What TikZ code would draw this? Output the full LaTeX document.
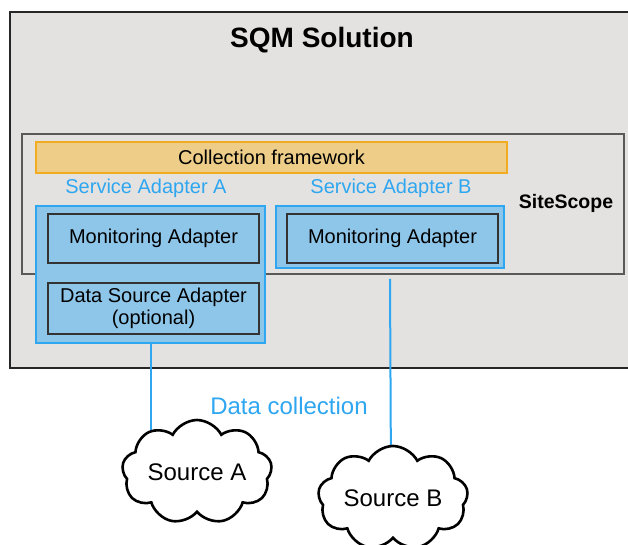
\documentclass[tikz,border=0pt]{standalone}
\usepackage{fontspec}
\setmainfont{Liberation Sans}
\usepackage{tikz}
\usetikzlibrary{shapes.symbols}

\definecolor{solgray}{HTML}{E4E2E0}
\definecolor{framefill}{HTML}{EDCD88}
\definecolor{frameline}{HTML}{F2AC22}
\definecolor{adapterfill}{HTML}{8EC6EA}
\definecolor{adapterblue}{HTML}{2EA6F0}

\begin{document}
\begin{tikzpicture}[
    x=1pt, y=-1pt,
    font=\fontsize{20}{23}\selectfont,
    container/.style={draw, rectangle, inner sep=0pt},
    adapterbox/.style={container, fill=adapterfill, draw=adapterblue, line width=1.5pt},
    innerbox/.style={container, fill=adapterfill, draw=black!80, line width=1.5pt, align=center},
    bluetext/.style={text=adapterblue},
    link/.style={draw=adapterblue, line width=2pt},
    sourcecloud/.style={cloud, cloud puffs=9, cloud puff arc=125, cloud ignores aspect,
      draw=black, fill=white, line width=2.6pt, minimum width=150, minimum height=104,
      font=\fontsize{24}{28}\selectfont}
  ]
  \clip (0,0) rectangle (628,544);
  % outer solution and SiteScope frames
  \node[container, fill=solgray, draw=black!85, line width=2pt,
    minimum width=622, minimum height=356] (sqm) at (321,190) {};
  \node[font=\fontsize{28}{32}\selectfont\bfseries] (sqmtitle) at (322,40) {SQM Solution};
  \node[container, draw=black!65, line width=1.2pt,
    minimum width=602, minimum height=140] (site) at (323,204) {};
  \node[font=\fontsize{19.5}{22}\selectfont\bfseries] (sitelabel) at (566,203) {SiteScope};
  \node[container, fill=framefill, draw=frameline, line width=1.3pt,
    minimum width=471, minimum height=31] (framework) at (271.5,157.5) {Collection framework};
  % service adapters
  \node[bluetext] (svcAlabel) at (146,188) {Service Adapter A};
  \node[bluetext] (svcBlabel) at (391,188) {Service Adapter B};
  \node[adapterbox, minimum width=229, minimum height=137] (svcA) at (150.5,274.5) {};
  \node[adapterbox, minimum width=228, minimum height=62] (svcB) at (390,237) {};
  \node[innerbox, minimum width=211, minimum height=49] (monA) at (153.5,238.5) {Monitoring Adapter};
  \node[innerbox, minimum width=211, minimum height=49] (monB) at (392.5,238.5) {Monitoring Adapter};
  \node[innerbox, minimum width=211, minimum height=51] (dsa) at (153.5,308.5) {Data Source Adapter\\[-1pt](optional)};
  % data collection links
  \coordinate (tapA) at (151,460);
  \coordinate (tapB) at (391,480);
  \draw[link] (svcA.south -| tapA) -- (tapA);
  \draw[link] ([yshift=-10pt]svcB.south) -- (tapB);
  \node[bluetext, font=\fontsize{24}{28}\selectfont] (collect) at (289,406) {Data collection};
  \node[sourcecloud] (srcA) at (197,472) {Source A};
  \node[sourcecloud] (srcB) at (393,498) {Source B};
\end{tikzpicture}
\end{document}
